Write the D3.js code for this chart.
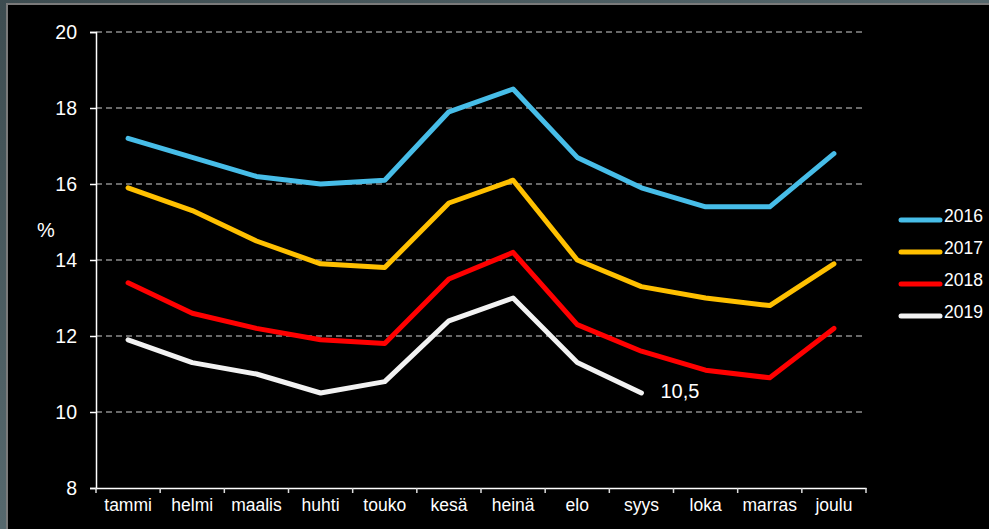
<!DOCTYPE html>
<html>
<head>
<meta charset="utf-8">
<script src="https://cdn.jsdelivr.net/npm/d3@7"></script>
<style>
  body { margin: 0; background: #44545a; overflow: hidden; }
  svg { display: block; font-family: "Liberation Sans", Arial, sans-serif; }
</style>
</head>
<body>
<div id="chart"></div>
<script>
// months on the x axis
var months = ["tammi", "helmi", "maalis", "huhti", "touko", "kesä", "heinä", "elo", "syys", "loka", "marras", "joulu"];
var years = ["2016", "2017", "2018", "2019"];
var colors = ["#47bde8", "#ffc000", "#ff0000", "#f2f2f2"];
var yTicks = [8, 10, 12, 14, 16, 18, 20];

var values2016 = [17.2, 16.7, 16.2, 16.0, 16.1, 17.9, 18.5, 16.7, 15.9, 15.4, 15.4, 16.8];
var values2017 = [15.9, 15.3, 14.5, 13.9, 13.8, 15.5, 16.1, 14.0, 13.3, 13.0, 12.8, 13.9];
var values2018 = [13.4, 12.6, 12.2, 11.9, 11.8, 13.5, 14.2, 12.3, 11.6, 11.1, 10.9, 12.2];
var values2019 = [11.9, 11.3, 11.0, 10.5, 10.8, 12.4, 13.0, 11.3, 10.5];
var lastLabel = "10,5";

var width = 989, height = 529;
var margin = { left: 96, right: 123, top: 32, bottom: 41 };

var svg = d3.select("#chart").append("svg")
    .attr("width", width).attr("height", height);

// textured-ish backdrop
var defs = svg.append("defs");
var grad = defs.append("linearGradient").attr("id", "bg").attr("x1", 0).attr("x2", 1).attr("y1", 0).attr("y2", 1);
grad.append("stop").attr("offset", "0%").attr("stop-color", "#3d4c50");
grad.append("stop").attr("offset", "50%").attr("stop-color", "#56686d");
grad.append("stop").attr("offset", "100%").attr("stop-color", "#3a484c");
svg.append("rect").attr("width", width).attr("height", height).attr("fill", "url(#bg)");

// black panel
svg.append("rect")
    .attr("x", 7).attr("y", 4).attr("width", width).attr("height", height)
    .attr("fill", "#000").attr("stroke", "#7a7a7a").attr("stroke-width", 2);

var x = d3.scaleBand().domain(months)
    .range([margin.left, width - margin.right]);
var y = d3.scaleLinear().domain([8, 20])
    .range([height - margin.bottom, margin.top]);

// grid lines
svg.append("g").selectAll("line")
    .data(yTicks.filter(function (d) { return d > 8; }))
    .join("line")
    .attr("x1", margin.left).attr("x2", width - margin.right)
    .attr("y1", function (d) { return y(d); })
    .attr("y2", function (d) { return y(d); })
    .attr("stroke", "#8c8c8c").attr("stroke-width", 1.3)
    .attr("stroke-dasharray", "6,4");

// y axis
var yAxis = svg.append("g")
    .attr("transform", "translate(" + margin.left + ",0)")
    .call(d3.axisLeft(y).tickValues(yTicks).tickSize(6).tickPadding(13));
yAxis.select(".domain").attr("stroke", "#fff").attr("stroke-width", 1.5);
yAxis.selectAll(".tick line").attr("stroke", "#fff").attr("stroke-width", 1.5);
yAxis.selectAll(".tick text").attr("fill", "#fff").attr("font-size", 19.5)
    .attr("font-family", "Liberation Sans, Arial, sans-serif");

// x axis, ticks at band edges
var xAxis = svg.append("g")
    .attr("transform", "translate(0," + (height - margin.bottom) + ")")
    .call(d3.axisBottom(x).tickSize(0).tickPadding(11));
xAxis.select(".domain").attr("stroke", "#fff").attr("stroke-width", 1.5);
xAxis.selectAll(".tick text").attr("fill", "#fff").attr("font-size", 17.5)
    .attr("font-family", "Liberation Sans, Arial, sans-serif");
xAxis.selectAll(".edge").data(months.concat(["end"]))
    .join("line")
    .attr("x1", function (d, i) { return margin.left + i * x.step(); })
    .attr("x2", function (d, i) { return margin.left + i * x.step(); })
    .attr("y1", 0).attr("y2", 5)
    .attr("stroke", "#ddd").attr("stroke-width", 1.5);

// "%" label
svg.append("text")
    .attr("x", 46).attr("y", 237)
    .attr("text-anchor", "middle")
    .attr("fill", "#fff").attr("font-size", 20)
    .text("%");

var series = [values2016, values2017, values2018, values2019];

var line = d3.line()
    .x(function (d, i) { return x(months[i]) + x.bandwidth() / 2; })
    .y(function (d) { return y(d); });

series.forEach(function (vals, k) {
    svg.append("path")
        .attr("d", line(vals))
        .attr("fill", "none")
        .attr("stroke", colors[k])
        .attr("stroke-width", 5)
        .attr("stroke-linejoin", "round")
        .attr("stroke-linecap", "round");
});

// label at the end of 2019
var lastIdx = values2019.length - 1;
svg.append("text")
    .attr("x", x(months[lastIdx]) + x.bandwidth() / 2 + 19)
    .attr("y", y(values2019[lastIdx]) + 5)
    .attr("fill", "#fff").attr("font-size", 20)
    .text(lastLabel);

// legend
var legY = [220, 252, 284, 316];
var legend = svg.append("g");
years.forEach(function (yr, k) {
    legend.append("line")
        .attr("x1", 901).attr("x2", 940)
        .attr("y1", legY[k]).attr("y2", legY[k])
        .attr("stroke", colors[k]).attr("stroke-width", 5)
        .attr("stroke-linecap", "round");
    legend.append("text")
        .attr("x", 944).attr("y", legY[k] + 2)
        .attr("fill", "#fff").attr("font-size", 17.5)
        .text(yr);
});
</script>
</body>
</html>
